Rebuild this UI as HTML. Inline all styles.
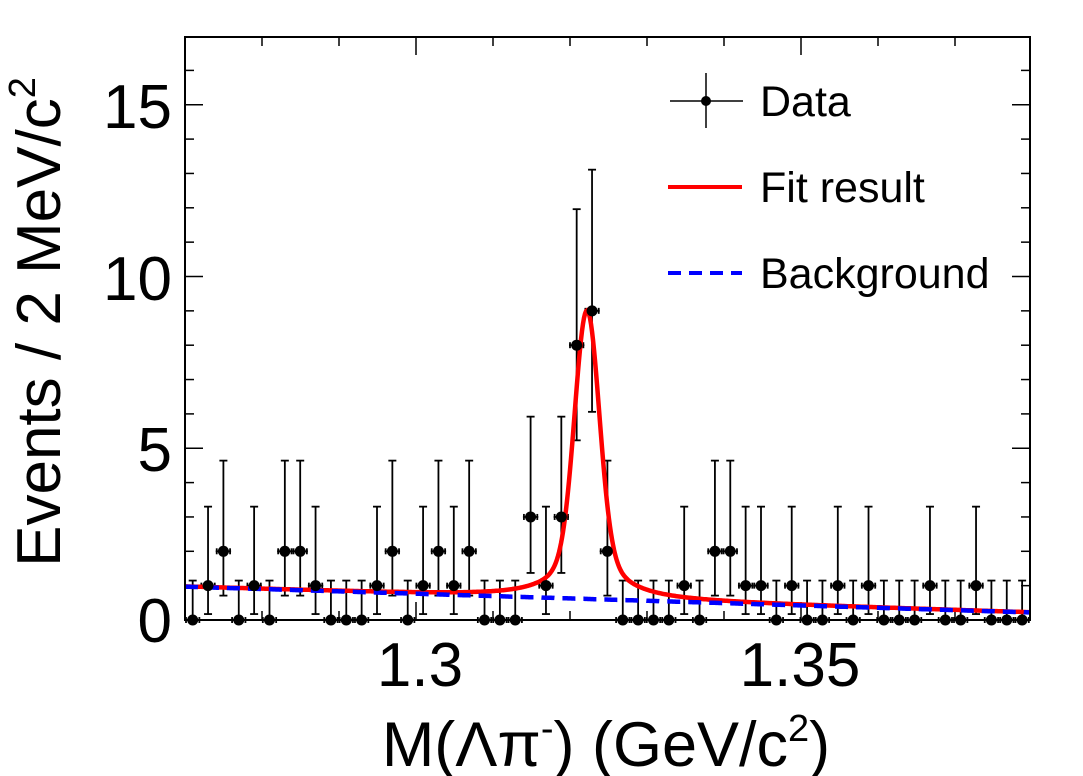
<!DOCTYPE html>
<html><head><meta charset="utf-8"><style>
html,body{margin:0;padding:0;background:#fff;}
svg{display:block;font-family:"Liberation Sans",Arial,sans-serif;}
</style></head><body>
<svg id="s" width="1083" height="776" viewBox="0 0 1083 776" xmlns="http://www.w3.org/2000/svg">
<rect x="0" y="0" width="1083" height="776" fill="#fff"/>
<g id="plot"></g>
<rect x="185" y="37" width="845" height="583" fill="none" stroke="#000" stroke-width="2"/>
<g font-size="62" fill="#000">
<text x="172" y="642" text-anchor="end">0</text>
<text x="172" y="471" text-anchor="end">5</text>
<text x="172" y="300" text-anchor="end">10</text>
<text x="172" y="128" text-anchor="end">15</text>
<text x="420" y="686" text-anchor="middle">1.3</text>
<text x="800" y="686" text-anchor="middle">1.35</text>
</g>
<text x="606" y="766" text-anchor="middle" font-size="63">M(Λπ<tspan dy="-25" font-size="38">-</tspan><tspan dy="25">) (GeV/c</tspan><tspan dy="-25" font-size="38">2</tspan><tspan dy="25">)</tspan></text>
<text transform="translate(60,322) rotate(-90)" text-anchor="middle" font-size="62">Events / 2 MeV/c<tspan dy="-25" font-size="38">2</tspan></text>
<g>
<line x1="706" y1="73" x2="706" y2="128" stroke="#000" stroke-width="1.5"/>
<line x1="670" y1="101" x2="743" y2="101" stroke="#000" stroke-width="1.5"/>
<circle cx="706" cy="101" r="5" fill="#000"/>
<text x="760" y="116" font-size="43">Data</text>
<line x1="668" y1="187" x2="742" y2="187" stroke="#f00" stroke-width="4"/>
<text x="760" y="202" font-size="43">Fit result</text>
<line x1="668" y1="273" x2="742" y2="273" stroke="#00f" stroke-width="4" stroke-dasharray="13,8"/>
<text x="760" y="288" font-size="43">Background</text>
</g>
</svg>
<script>
(function(){
var g=document.getElementById('plot');var ns='http://www.w3.org/2000/svg';
function el(t,a){var e=document.createElementNS(ns,t);for(var k in a)e.setAttribute(k,a[k]);g.appendChild(e);return e;}
var X0=185,X1=1030,Y0=620,sy=34.35;
function Y(v){return Y0-v*sy;}
for(var i=1;i<=16;i++){var L=(i%5==0)?18:9;el('line',{x1:X0,y1:Y(i),x2:X0+L,y2:Y(i),stroke:'#000','stroke-width':1.5});el('line',{x1:X1,y1:Y(i),x2:X1-L,y2:Y(i),stroke:'#000','stroke-width':1.5});}
for(var k=0;k<=55;k++){var x=X0+k*15.4;var L=(k%25==15)?18:((k%5==0)?9:0);if(L>0&&x>X0+1&&x<X1-1){el('line',{x1:x,y1:Y0,x2:x,y2:Y0-L,stroke:'#000','stroke-width':1.5});el('line',{x1:x,y1:37,x2:x,y2:37+L,stroke:'#000','stroke-width':1.5});}}
function bg(x){return 0.97-0.75*(x-X0)/(X1-X0);}
function sig(x){var d=x-587;return 6.6*Math.exp(-d*d/(2*144))+1.8/(1+(d/28)*(d/28));}
var pr='',pb='';
for(var x=X0;x<=X1;x+=1){pr+=(x==X0?'M':'L')+x+','+Y(bg(x)+sig(x)).toFixed(1);pb+=(x==X0?'M':'L')+x+','+Y(bg(x)).toFixed(1);}
var data=[0,1,2,0,1,0,2,2,1,0,0,0,1,2,0,1,2,1,2,0,0,0,3,1,3,8,9,2,0,0,0,0,1,0,2,2,1,1,0,1,0,0,1,0,1,0,0,0,1,0,0,1,0,0,0];
var lo=[0,0.827,1.29,1.63],hi=[1.148,2.3,2.64,2.92];lo[8]=2.77;hi[8]=3.96;lo[9]=2.94;hi[9]=4.11;
var w=15.36;
for(var i=0;i<data.length;i++){var n=data[i];var cx=X0+w*(i+0.5);var y1=Y(n-lo[n]),y2=Y(n+hi[n]);
el('line',{x1:cx,y1:Math.min(y1,Y0),x2:cx,y2:y2,stroke:'#000','stroke-width':1.8});
el('line',{x1:cx-4,y1:y2,x2:cx+4,y2:y2,stroke:'#000','stroke-width':1.8});
if(n>0)el('line',{x1:cx-4,y1:y1,x2:cx+4,y2:y1,stroke:'#000','stroke-width':1.8});
el('line',{x1:Math.max(cx-w/2,X0),y1:Y(n),x2:Math.min(cx+w/2,X1),y2:Y(n),stroke:'#000','stroke-width':1.8});
el('line',{x1:cx-w/2+1,y1:Y(n)-3,x2:cx-w/2+1,y2:Y(n)+3,stroke:'#000','stroke-width':1.8});
el('line',{x1:cx+w/2-1,y1:Y(n)-3,x2:cx+w/2-1,y2:Y(n)+3,stroke:'#000','stroke-width':1.8});
}
el('path',{d:pr,fill:'none',stroke:'#f00','stroke-width':4.5});
el('path',{d:pb,fill:'none',stroke:'#00f','stroke-width':4.5,'stroke-dasharray':'13,8'});
for(var i=0;i<data.length;i++){var cx=X0+w*(i+0.5);el('circle',{cx:cx,cy:Y(data[i]),r:5.5,fill:'#000'});}
})();
</script>
</body></html>
